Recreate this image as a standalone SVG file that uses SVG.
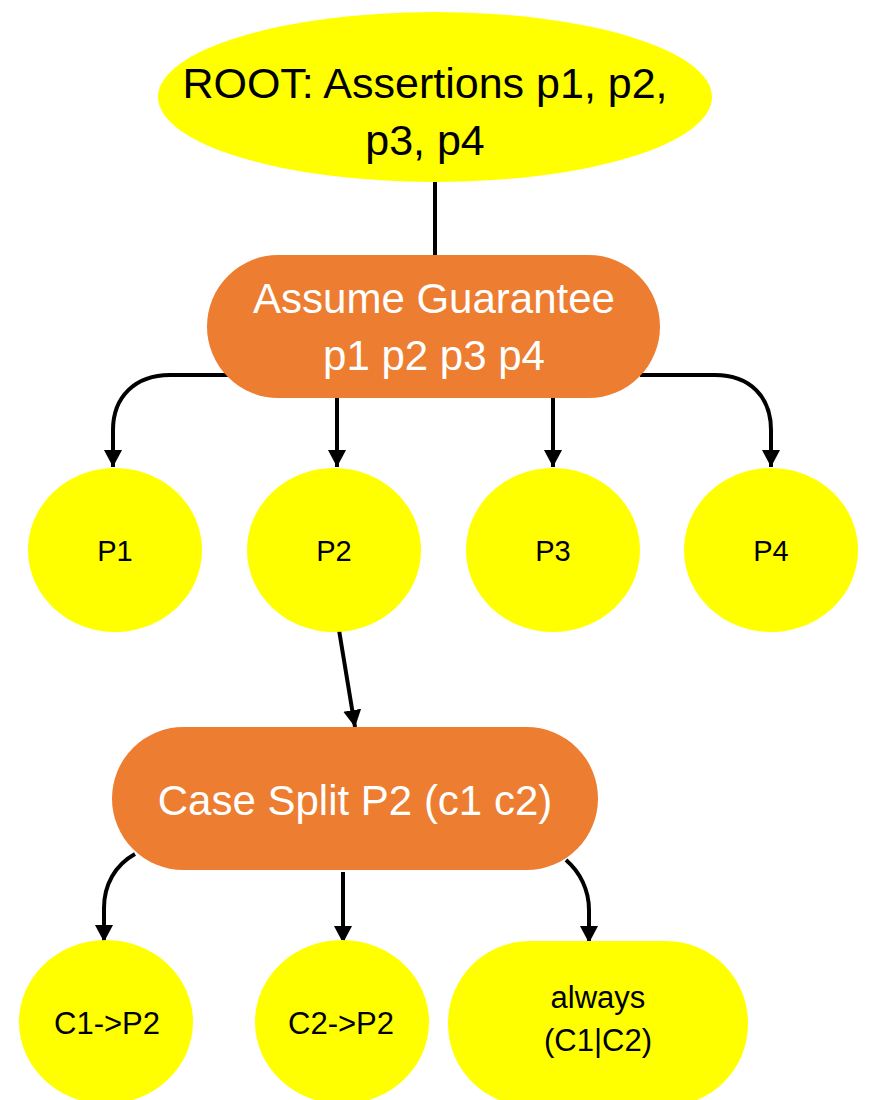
<svg xmlns="http://www.w3.org/2000/svg" width="869" height="1100" viewBox="0 0 869 1100">
  <style>
    .y { fill: #FFFF00; }
    .o { fill: #ED7D31; }
    .big { font-family: "Liberation Sans", Arial, sans-serif; font-size: 42px; text-anchor: middle; }
    .w { fill: #FFFFFF; }
    .k { fill: #000000; }
    .sm { font-family: "Liberation Sans", Arial, sans-serif; font-size: 29px; text-anchor: middle; fill: #000; }
    .bt { font-family: "Liberation Sans", Arial, sans-serif; font-size: 31px; text-anchor: middle; fill: #000; }
    .c { fill: none; stroke: #000; stroke-width: 4; }
  </style>
  <defs>
    <marker id="ah" markerUnits="userSpaceOnUse" markerWidth="20" markerHeight="20" refX="17" refY="9" orient="auto">
      <path d="M0,0 L17,9 L0,18 z" fill="#000"/>
    </marker>
  </defs>
  <rect width="869" height="1100" fill="#FFFFFF"/>

  <g id="connectors">
    <path class="c" d="M435,182 V255"/>
    <path class="c" d="M228,375 H170 C135,375 113,397 113,430 V467" marker-end="url(#ah)"/>
    <path class="c" d="M337,398 V467" marker-end="url(#ah)"/>
    <path class="c" d="M553,398 V467" marker-end="url(#ah)"/>
    <path class="c" d="M640,375 H715 C750,375 771,397 771,430 V467" marker-end="url(#ah)"/>
    <path class="c" d="M339,630 L355,727" marker-end="url(#ah)"/>
    <path class="c" d="M135,854 C115,865 104,885 104,908 V942" marker-end="url(#ah)"/>
    <path class="c" d="M343,872 V943" marker-end="url(#ah)"/>
    <path class="c" d="M566,860 C580,872 589,890 589,910 V943" marker-end="url(#ah)"/>
  </g>

  <g id="root">
    <ellipse class="y" cx="435" cy="97" rx="277" ry="85"/>
    <text class="big k" x="425" y="98" style="font-size:43px">ROOT: Assertions p1, p2,</text>
    <text class="big k" x="425" y="155" style="font-size:43px">p3, p4</text>
  </g>

  <g id="assume">
    <rect class="o" x="207" y="255" width="453" height="143" rx="71.5"/>
    <text class="big w" x="434" y="313">Assume Guarantee</text>
    <text class="big w" x="434" y="370">p1 p2 p3 p4</text>
  </g>

  <g id="p1">
    <ellipse class="y" cx="115" cy="550" rx="87" ry="82"/>
    <text class="sm" x="115" y="561">P1</text>
  </g>
  <g id="p2">
    <ellipse class="y" cx="334" cy="550" rx="87" ry="82"/>
    <text class="sm" x="334" y="561">P2</text>
  </g>
  <g id="p3">
    <ellipse class="y" cx="553" cy="550" rx="87" ry="82"/>
    <text class="sm" x="553" y="561">P3</text>
  </g>
  <g id="p4">
    <ellipse class="y" cx="771" cy="550" rx="87" ry="82"/>
    <text class="sm" x="771" y="561">P4</text>
  </g>

  <g id="casesplit">
    <rect class="o" x="112" y="727" width="486" height="143" rx="71.5"/>
    <text class="big w" x="355" y="815">Case Split P2 (c1 c2)</text>
  </g>

  <g id="c1p2">
    <ellipse class="y" cx="106" cy="1022" rx="87" ry="82"/>
    <text class="bt" x="107" y="1034">C1-&gt;P2</text>
  </g>
  <g id="c2p2">
    <ellipse class="y" cx="342" cy="1022" rx="87" ry="82"/>
    <text class="bt" x="341" y="1034">C2-&gt;P2</text>
  </g>
  <g id="always">
    <rect class="y" x="448" y="941" width="300" height="165" rx="82"/>
    <text class="bt" x="598" y="1008">always</text>
    <text class="bt" x="598" y="1051">(C1|C2)</text>
  </g>
</svg>
